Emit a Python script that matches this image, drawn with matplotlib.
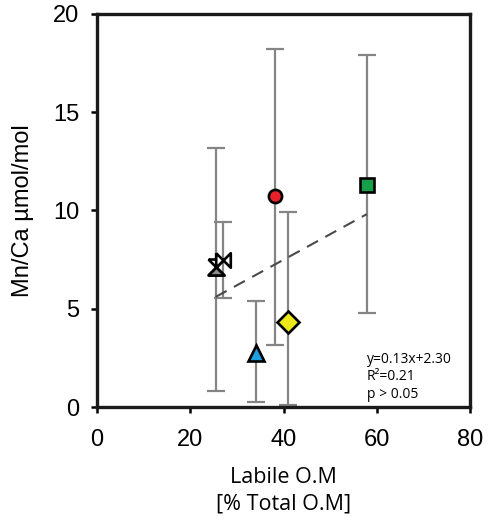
import matplotlib
matplotlib.use("Agg")
import matplotlib.pyplot as plt
import numpy as np
from matplotlib.path import Path

# Labile organic matter vs Mn/Ca, one point per site
labile_om = [25.4, 26.9, 34.0, 38.1, 40.9, 57.8]
mn_ca = [7.1, 7.5, 2.75, 10.75, 4.35, 11.3]
err_low = [0.8, 5.55, 0.25, 3.15, 0.1, 4.8]
err_high = [13.2, 9.4, 5.4, 18.2, 9.9, 17.9]

slope, intercept = 0.13, 2.30
fit_text = ["y=0.13x+2.30", "R\u00b2=0.21", "p > 0.05"]

hourglass = Path([(-1, 1), (1, 1), (-1, -1), (1, -1), (-1, 1)])
hourglass_low = Path([(-1, -1), (1, -1), (0, 0), (-1, -1)])
bowtie = Path([(-1, 1), (-1, -1), (1, 1), (1, -1), (-1, 1)])

fig = plt.figure(figsize=(4.88, 5.29), dpi=100)
ax = fig.add_axes([0.199, 0.2306, 0.765, 0.743])

x = np.array(labile_om)
y = np.array(mn_ca)
yerr = [y - np.array(err_low), np.array(err_high) - y]
ax.errorbar(x, y, yerr=yerr, fmt="none", ecolor="#858585", elinewidth=1.6,
            capsize=6.5, capthick=1.6, zorder=2)

# regression line over the data range
xf = np.array([x.min(), x.max()])
ax.plot(xf, slope * xf + intercept, ls=(0, (6, 4)), color="#4a4a4a", lw=1.5, zorder=3)

kw = dict(ls="none", mec="black", mew=1.9, zorder=4)
ax.plot(x[0], y[0], marker=hourglass, ms=11.5, mfc="white", **kw)
ax.plot(x[0], y[0], marker=hourglass_low, ms=11.5, mfc="#8c8c8c", **kw)
ax.plot(x[1], y[1], marker=bowtie, ms=10.5, mfc="white", **kw)
ax.plot(x[2], y[2], marker="^", ms=12, mfc="#1ba1e2", **kw)
ax.plot(x[3], y[3], marker="o", ms=9.5, mfc="#e8202a", **kw)
ax.plot(x[4], y[4], marker="D", ms=11, mfc="#ece819", **kw)
ax.plot(x[5], y[5], marker="s", ms=10, mfc="#16a04a", **kw)

ax.set_xlim(0, 80)
ax.set_ylim(0, 20)
ax.set_xticks([0, 20, 40, 60, 80])
ax.set_yticks([0, 5, 10, 15, 20])
for s in ax.spines.values():
    s.set_linewidth(2.4)
    s.set_color("#1a1a1a")
ax.tick_params(direction="out", length=4, width=1.8, labelsize=17)
ax.tick_params(axis="x", pad=12)
ax.tick_params(axis="y", pad=9)
for lbl in ax.get_xticklabels() + ax.get_yticklabels():
    lbl.set_family("Liberation Sans")

ax.set_ylabel("Mn/Ca \u00b5mol/mol", family="Liberation Sans", fontsize=17)
ax.yaxis.set_label_coords(-0.17, 0.5)
ax.set_xlabel("Labile O.M\n[% Total O.M]", family="Open Sans", fontsize=15.5,
              linespacing=1.35)
ax.xaxis.set_label_coords(0.5, -0.152)

for i, t in enumerate(fit_text):
    ax.text(0.722, 0.122 - i * 0.045, t, transform=ax.transAxes, fontsize=10,
            family="Open Sans", va="center", ha="left")

fig.savefig("out.png", dpi=100)
